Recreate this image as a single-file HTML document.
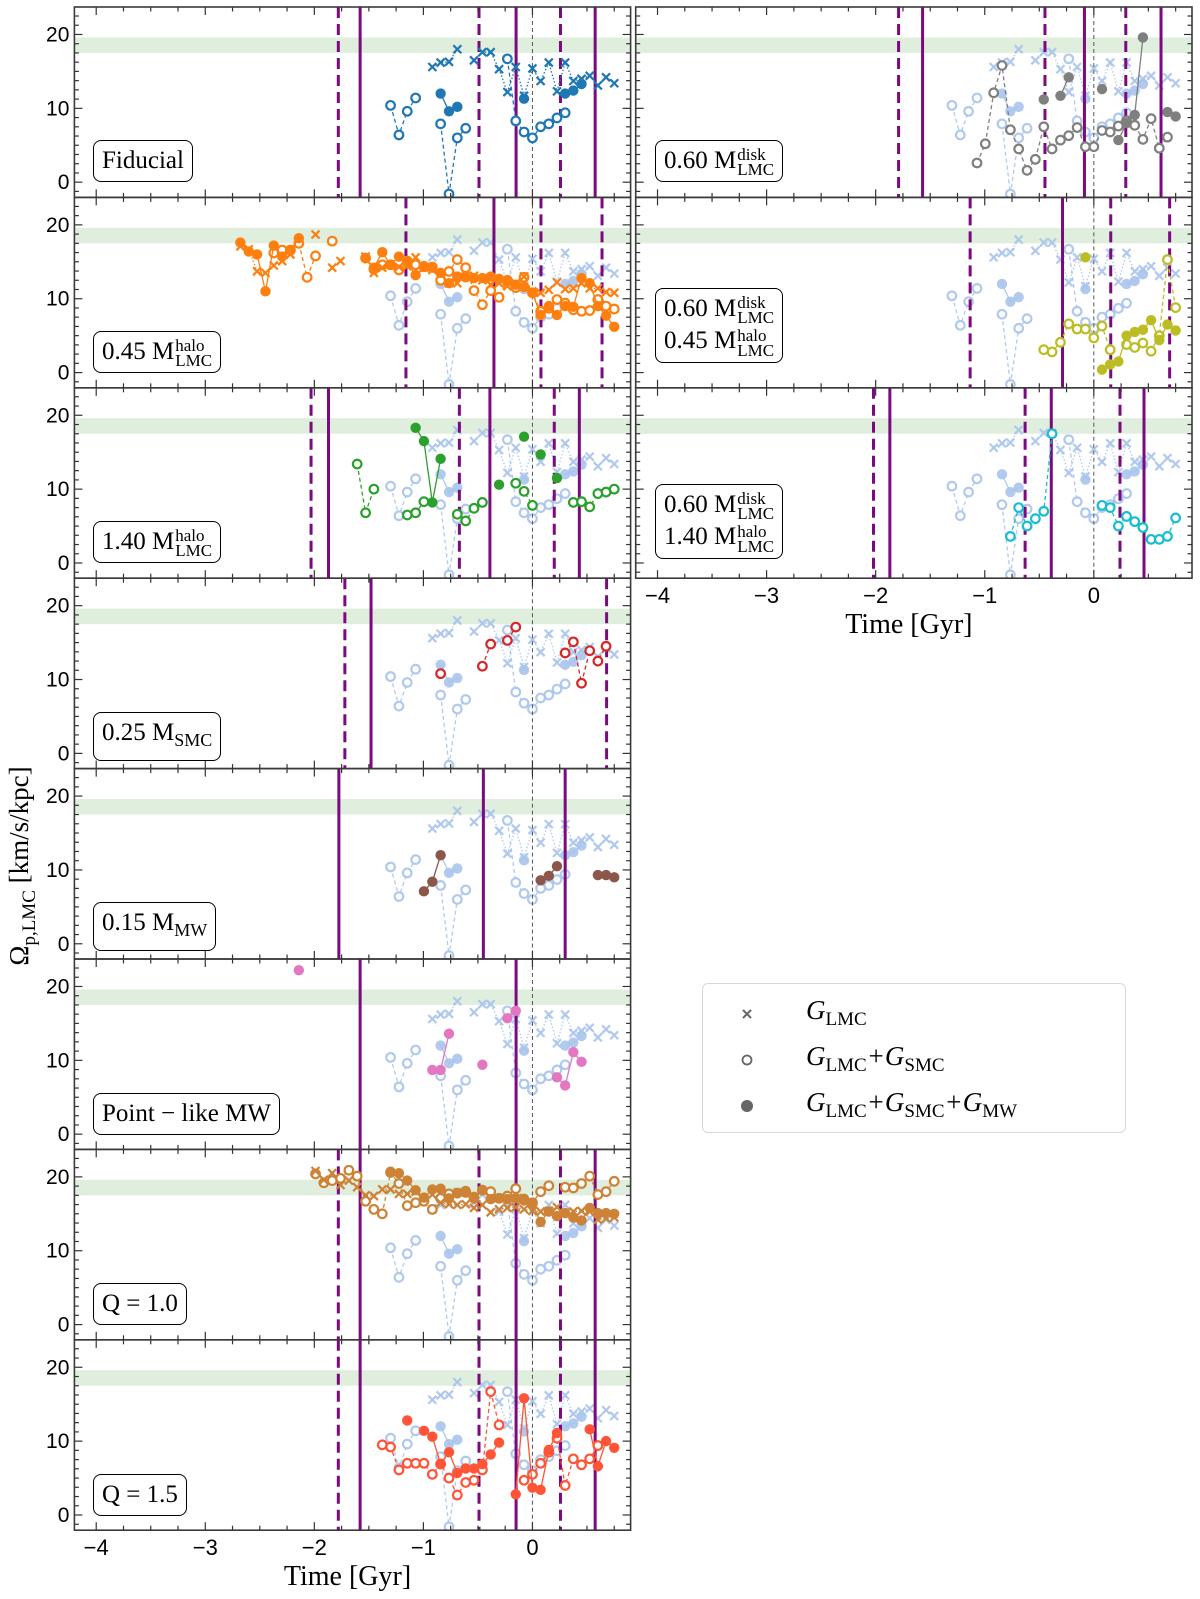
<!DOCTYPE html>
<html><head><meta charset="utf-8">
<style>
html,body{margin:0;padding:0;background:#fff;}
#wrap{position:relative;width:1200px;height:1599px;overflow:hidden;font-family:"Liberation Serif",serif;}
svg{position:absolute;left:0;top:0;}
.lbl{position:absolute;border:1.4px solid #000;border-radius:8px;background:#fff;font-family:"Liberation Serif",serif;font-size:25px;color:#000;padding:4px 8px;line-height:32px;white-space:nowrap;}
.st{display:inline-block;vertical-align:middle;font-size:17px;line-height:15px;text-align:left;margin-left:1px;}
.lg{position:absolute;left:702px;top:983px;width:422px;height:148px;border:1.3px solid #d8d8d8;border-radius:6px;background:#fff;}
.lgt{position:absolute;left:103px;font-family:"Liberation Serif",serif;font-style:italic;font-size:27px;white-space:nowrap;}
.lgt sub{font-style:normal;font-size:19px;vertical-align:-6px;}
</style></head><body>
<div id="wrap">
<svg id="chart" width="1200" height="1599"></svg>

<div class="lbl" style="left:93px;top:140px;">Fiducial</div>
<div class="lbl" style="left:93px;top:331px;">0.45 M<span class="st">halo<br>LMC</span></div>
<div class="lbl" style="left:93px;top:521px;">1.40 M<span class="st">halo<br>LMC</span></div>
<div class="lbl" style="left:93px;top:712px;">0.25 M<span style="font-size:18px;vertical-align:-6px">SMC</span></div>
<div class="lbl" style="left:93px;top:902px;">0.15 M<span style="font-size:18px;vertical-align:-6px">MW</span></div>
<div class="lbl" style="left:93px;top:1093px;">Point − like MW</div>
<div class="lbl" style="left:93px;top:1283px;">Q = 1.0</div>
<div class="lbl" style="left:93px;top:1474px;">Q = 1.5</div>
<div class="lbl" style="left:655px;top:140px;">0.60 M<span class="st">disk<br>LMC</span></div>
<div class="lbl" style="left:655px;top:288px;">0.60 M<span class="st">disk<br>LMC</span><br>0.45 M<span class="st">halo<br>LMC</span></div>
<div class="lbl" style="left:655px;top:484px;">0.60 M<span class="st">disk<br>LMC</span><br>1.40 M<span class="st">halo<br>LMC</span></div>

<div class="lg">
  <svg width="60" height="148" style="left:20px;top:0">
    <g stroke="#666" stroke-width="2"><line x1="20" y1="26" x2="28" y2="34"/><line x1="28" y1="26" x2="20" y2="34"/></g>
    <circle cx="24" cy="76" r="4.5" fill="#fff" stroke="#666" stroke-width="1.8"/>
    <circle cx="24" cy="122" r="6" fill="#666"/>
  </svg>
  <div class="lgt" style="top:11px">G<sub>LMC</sub></div>
  <div class="lgt" style="top:57px">G<sub>LMC</sub>+G<sub>SMC</sub></div>
  <div class="lgt" style="top:103px">G<sub>LMC</sub>+G<sub>SMC</sub>+G<sub>MW</sub></div>
</div>
</div>

<script>
// ---- time grid (Gyr), index n = -36..10 ----
const T = [-2.754,-2.678,-2.601,-2.525,-2.448,-2.372,-2.295,-2.219,-2.142,-2.066,-1.989,-1.913,-1.836,-1.760,-1.683,-1.607,-1.530,-1.454,-1.377,-1.301,-1.224,-1.148,-1.071,-0.995,-0.918,-0.842,-0.765,-0.689,-0.612,-0.536,-0.459,-0.383,-0.306,-0.230,-0.153,-0.077,0,0.075,0.150,0.225,0.300,0.375,0.450,0.525,0.600,0.675,0.750];
const T_N0 = -36;
const xTicks = [-4,-3,-2,-1,0];
const xTickLabels = ["\u22124","\u22123","\u22122","\u22121","0"];
const yTicks = [0,10,20];
const yTickLabels = ["0","10","20"];
const bandLow = 17.5, bandHigh = 19.6;

// Fiducial
const fidCrossN0 = -12;
const fidCrossV = [15.6,16.2,16.3,18.0,null,16.5,17.6,17.6,15.3,12.2,15.6,11.7,15.4,13.7,16.2,12.3,16.2,13.7,14.0,14.4,13.1,14.2,13.4];
const fidOpenN0 = -17;
const fidOpenV = [10.4,6.4,9.6,11.4,null,null,7.9,-1.6,6.0,7.3,null,null,null,null,16.7,8.3,6.8,6.0,7.5,7.9,8.7,9.4];
const fidFillN0 = -11;
const fidFillV = [12.0,9.6,10.2,null,null,null,null,null,null,null,11.3,null,null,null,null,12.0,12.4,13.3];
// 0.45 halo (orange)
const oCrossN0 = -35;
const oCrossV = [17.1,16.7,13.7,13.5,14.5,15.1,16.0,null,null,18.7,null,14.2,15.1,null,null,15.7,13.5,14.2,14.6,14.3,14.4,15.6,14.2,13.9,13.3,12.1,12.1,13.0,13.1,12.5,11.9,12.1,11.7,12.1,13.0,11.0,10.8,11.2,12.2,11.3,11.4,12.1,11.4,11.4,10.9,10.8];
const oOpenN0 = -31;
const oOpenV = [16.2,16.6,16.6,17.5,12.9,15.8,null,17.8,null,null,null,15.5,14.0,14.6,14.6,13.9,15.1,14.6,14.4,14.3,12.5,13.7,15.3,14.2,11.1,9.2,11.1,10.2,12.5,11.5,12.9,10.8,8.3,8.7,9.9,9.4,8.5,8.3,8.4,9.9,9.0,8.6];
const oFillN0 = -35;
const oFillV = [17.6,16.4,16.0,11.0,17.2,15.7,16.5,18.2,null,null,null,null,null,null,null,15.5,14.2,16.3,14.6,15.7,14.9,13.2,14.3,14.2,13.5,12.1,13.0,12.9,12.8,12.8,13.0,12.7,12.3,11.9,11.6,10.8,7.8,9.0,7.8,9.0,8.9,12.8,12.1,9.0,7.7,6.2];
// 1.40 halo (green)
const gOpenN0 = -21;
const gOpenV = [13.4,6.8,10.0,null,null,null,6.5,6.8,8.3,null,null,null,6.6,5.7,7.4,8.2,null,null,null,10.8,9.7,7.8,null,null,null,null,8.2,8.3,7.6,9.4,9.6,10.0];
const gFillN0 = -14;
const gFillV = [18.3,16.5,8.2,14.1,null,null,null,null,null,null,10.6,null,null,17.1,null,14.7,null,11.5];
// 0.25 SMC (red)
const rOpenN0 = -11;
const rOpenV = [10.8,null,null,null,null,11.8,14.8,null,15.3,17.1,null,null,null,null,null,13.6,15.1,9.5,13.9,12.5,14.5];
// 0.15 MW (brown)
const bFillN0 = -13;
const bFillV = [7.1,8.4,12.0,null,null,null,null,null,null,null,null,null,null,null,8.6,9.2,10.5,null,null,null,null,9.3,9.3,9.0];
// point-like MW (pink)
const pFillN0 = -28;
const pFillV = [22.2,null,null,null,null,null,null,null,null,null,null,null,null,null,null,null,8.7,8.7,13.6,null,null,null,9.4,null,null,15.7,16.7,null,null,null,null,7.7,6.6,11.1,9.8];
// Q=1.0
const q1CrossN0 = -26;
const q1CrossV = [20.8,19.6,20.5,18.9,19.5,18.6,17.5,17.4,18.3,18.3,17.7,17.7,18.0,17.1,17.6,16.5,16.3,16.2,16.3,15.8,16.2,15.2,15.6,15.8,15.9,15.6,15.4,15.3,15.4,15.9,15.1,15.3,15.4,15.3,14.2,14.4,14.5];
const q1OpenN0 = -26;
const q1OpenV = [20.4,19.2,19.5,19.8,20.9,20.1,16.7,15.6,15.0,20.6,19.1,16.1,16.5,16.7,15.6,17.1,17.7,17.8,17.9,17.1,18.2,18.0,17.1,17.4,18.4,17.0,16.5,18.0,18.8,null,18.6,18.5,19.1,20.1,17.6,18.0,19.4];
const q1FillN0 = -17;
const q1FillV = [20.7,20.5,19.5,18.2,17.2,18.3,18.4,17.1,17.8,18.1,17.3,18.2,17.0,17.1,17.0,17.1,16.8,16.3,13.9,15.3,14.7,15.1,14.5,14.1,15.8,15.1,15.1,15.0];
// Q=1.5
const q15OpenN0 = -18;
const q15OpenV = [9.5,9.2,6.1,7.0,7.0,7.0,5.5,6.9,5.0,2.7,4.4,4.7,6.1,16.7,12.2,null,null,4.7,5.5,7.0,8.5,10.4,4.0,7.6,6.8,7.6,9.4];
const q15FillN0 = -15;
const q15FillV = [12.8,null,11.4,10.6,6.9,8.5,5.7,6.3,6.3,6.9,8.2,9.8,null,2.8,15.8,3.7,3.4,8.8,11.1,null,null,null,11.6,6.6,10.0,9.1];
// 0.60 disk (grey)
const kOpenN0 = -14;
const kOpenV = [2.6,5.2,12.1,15.8,7.1,4.5,1.6,3.1,7.5,4.5,5.7,6.3,7.4,4.8,4.8,7.0,6.8,7.6,8.3,7.7,5.8,8.6,4.6,6.1];
const kFillN0 = -6;
const kFillV = [11.2,null,11.7,14.2,null,null,null,12.6,null,5.7,8.0,9.1,19.6,null,null,9.5,8.9];
// 0.60 disk + 0.45 halo (olive)
const yOpenN0 = -6;
const yOpenV = [3.1,2.8,4.1,6.6,5.9,5.9,4.7,6.3,3.1,null,3.8,3.4,4.0,2.9,5.0,15.3,8.8];
const yFillN0 = -1;
const yFillV = [15.6,null,0.4,1.1,1.5,5.0,5.5,5.8,7.1,4.4,6.5,5.7];
// 0.60 disk + 1.40 halo (cyan)
const cOpenN0 = -10;
const cOpenV = [3.6,7.5,5.0,6.0,7.0,17.5,null,null,null,null,null,7.8,7.5,5.0,6.3,5.6,4.8,3.2,3.2,3.6,6.1];

// vertical event lines (Gyr)
const vDash = {p1:[-1.78,-0.49,0.257],p2:[-1.16,0.078,0.638],p3:[-2.03,-0.67,0.20],p4:[-1.72,0.68],p5:[],p6:[],p7:[-1.78,-0.49,0.257],p8:[-1.78,-0.49,0.257],r1:[-1.79,-0.448,0.293],r2:[-1.134,0.155,0.695],r3:[-2.02,-0.63,0.24]};
const vSolid = {p1:[-1.58,-0.15,0.575],p2:[-0.353],p3:[-1.87,-0.39,0.43],p4:[-1.48],p5:[-1.775,-0.45,0.30],p6:[-1.58,-0.15],p7:[-1.58,-0.15,0.575],p8:[-1.58,-0.15,0.575],r1:[-1.57,-0.086,0.616],r2:[-0.287],r3:[-1.87,-0.39,0.46]};

const NS = "http://www.w3.org/2000/svg";
const svg = document.getElementById('chart');
const XMIN=-4.2, XMAX=0.9, YMIN=-2.06, YMAX=23.72, PH=190.4;
function mk(tag, attrs, parent){const e=document.createElementNS(NS,tag);for(const k in attrs)e.setAttribute(k,attrs[k]);(parent||svg).appendChild(e);return e;}

function makeAxes(x0, w, row){
  const top=7+row*PH;
  return {x0,w,top,
    sx:t=>x0+(t-XMIN)/(XMAX-XMIN)*w,
    sy:v=>top+(YMAX-v)/(YMAX-YMIN)*PH};
}

function drawSeries(g, ax, n0, vals, kind, color, dash, opacity){
  const pts=[];
  vals.forEach((v,i)=>{const idx=n0+i-T_N0; pts.push(v===null?null:[ax.sx(T[idx]),ax.sy(v)]);});
  // lines
  let seg=[];
  const flush=()=>{ if(seg.length>1){
      const l=mk('polyline',{points:seg.map(p=>p.join(',')).join(' '),fill:'none',stroke:color,'stroke-width':1.3,'stroke-dasharray':dash,opacity:opacity},g);
      
      
    } seg=[]; };
  pts.forEach(p=>{ if(p===null) flush(); else seg.push(p); }); flush();
  pts.forEach(p=>{ if(!p) return;
    let m;
    if(kind==='cross'){
      m=mk('g',{stroke:color,'stroke-width':2.2,opacity:opacity},g);
      mk('line',{x1:p[0]-4,y1:p[1]-4,x2:p[0]+4,y2:p[1]+4},m);
      mk('line',{x1:p[0]+4,y1:p[1]-4,x2:p[0]-4,y2:p[1]+4},m);
    } else if(kind==='open'){
      m=mk('circle',{cx:p[0],cy:p[1],r:4.3,fill:'#fff',stroke:color,'stroke-width':2.2,opacity:opacity},g);
    } else {
      m=mk('circle',{cx:p[0],cy:p[1],r:5.2,fill:color,opacity:opacity},g);
    }
    
    
  });
}

const LIGHT='#a9c4ec';
function drawPanel(key, ax, series, isFid, showXLabels){
  const g=mk('g',{});
  
  
  const cid='clip-'+key;
  const cp=mk('clipPath',{id:cid},g); mk('rect',{x:ax.x0,y:ax.top,width:ax.w,height:PH},cp);
  const inner=mk('g',{'clip-path':'url(#'+cid+')'},g);
  const band=mk('rect',{x:ax.x0,y:ax.sy(bandHigh),width:ax.w,height:ax.sy(bandLow)-ax.sy(bandHigh),fill:'#dfeedd'},inner);
  
  
  if(!isFid){
    drawSeries(inner,ax,fidOpenN0,fidOpenV,'open',LIGHT,'4,3',0.9);
    drawSeries(inner,ax,fidCrossN0,fidCrossV,'cross',LIGHT,'1.5,2',0.9);
    drawSeries(inner,ax,fidFillN0,fidFillV,'filled',LIGHT,'',0.9);
  }
  vDash[key].forEach(t=>{const l=mk('line',{x1:ax.sx(t),x2:ax.sx(t),y1:ax.top,y2:ax.top+PH,stroke:'#7a0a7e','stroke-width':3,'stroke-dasharray':'11,6'},inner);
    
    });
  vSolid[key].forEach(t=>{const l=mk('line',{x1:ax.sx(t),x2:ax.sx(t),y1:ax.top,y2:ax.top+PH,stroke:'#7a0a7e','stroke-width':3},inner);
    
    });
  const z=mk('line',{x1:ax.sx(0),x2:ax.sx(0),y1:ax.top,y2:ax.top+PH,stroke:'#555','stroke-width':1,'stroke-dasharray':'4,3'},inner);
  
  
  series.forEach(s=>drawSeries(inner,ax,s[0],s[1],s[2],s[3],s[4],1));
  // ticks
  const tk=mk('g',{stroke:'#333','stroke-width':1.2},g);
  for(let i=-16;i<=3;i++){const t=i*0.25; const x=ax.sx(t); const L=(i%4===0)?8:4.5;
    mk('line',{x1:x,x2:x,y1:ax.top,y2:ax.top+L},tk); mk('line',{x1:x,x2:x,y1:ax.top+PH,y2:ax.top+PH-L},tk);}
  for(let i=-1;i<=18;i++){const v=i*1.25; const y=ax.sy(v); if(y<ax.top||y>ax.top+PH) continue; const L=(i%8===0)?8:4.5;
    mk('line',{x1:ax.x0,x2:ax.x0+L,y1:y,y2:y},tk); mk('line',{x1:ax.x0+ax.w,x2:ax.x0+ax.w-L,y1:y,y2:y},tk);}
  const fr=mk('rect',{x:ax.x0,y:ax.top,width:ax.w,height:PH,fill:'none',stroke:'#3a3a3a','stroke-width':1.6},g);
  
  
  if(ax.x0<100){
    yTicks.forEach((v,i)=>{const t=mk('text',{x:ax.x0-5,y:ax.sy(v)+7,'text-anchor':'end','font-family':'Liberation Sans, sans-serif','font-size':21},g); t.textContent=yTickLabels[i];
      
      });
  }
  if(showXLabels){
    xTicks.forEach((v,i)=>{const t=mk('text',{x:ax.sx(v),y:ax.top+PH+25,'text-anchor':'middle','font-family':'Liberation Sans, sans-serif','font-size':22},g); t.textContent=xTickLabels[i];
      
      });
    const xl=mk('text',{x:ax.x0+ax.w/2-5,y:ax.top+PH+55,'text-anchor':'middle','font-family':'Liberation Serif, serif','font-size':28},g);
    xl.textContent='Time [Gyr]';
    
    
  }
}

const LX=74.4, LW=556.2, RX=635.7, RW=556.3;
const C={fid:'#1f77b4',o:'#ff7f0e',g:'#2ca02c',r:'#d62728',b:'#8c564b',p:'#e377c2',k:'#7f7f7f',y:'#bcbd22',c:'#17becf',q1:'#cd8235',q15:'#ff5436'};
const DOT='1.5,2', DSH='4,3';
drawPanel('p1',makeAxes(LX,LW,0),[[fidOpenN0,fidOpenV,'open',C.fid,DSH],[fidCrossN0,fidCrossV,'cross',C.fid,DOT],[fidFillN0,fidFillV,'filled',C.fid,'']],true,false);
drawPanel('p2',makeAxes(LX,LW,1),[[oOpenN0,oOpenV,'open',C.o,DSH],[oCrossN0,oCrossV,'cross',C.o,DOT],[oFillN0,oFillV,'filled',C.o,'']],false,false);
drawPanel('p3',makeAxes(LX,LW,2),[[gOpenN0,gOpenV,'open',C.g,DSH],[gFillN0,gFillV,'filled',C.g,'']],false,false);
drawPanel('p4',makeAxes(LX,LW,3),[[rOpenN0,rOpenV,'open',C.r,DSH]],false,false);
drawPanel('p5',makeAxes(LX,LW,4),[[bFillN0,bFillV,'filled',C.b,'']],false,false);
drawPanel('p6',makeAxes(LX,LW,5),[[pFillN0,pFillV,'filled',C.p,'']],false,false);
drawPanel('p7',makeAxes(LX,LW,6),[[q1OpenN0,q1OpenV,'open',C.q1,DSH],[q1CrossN0,q1CrossV,'cross',C.q1,DOT],[q1FillN0,q1FillV,'filled',C.q1,'']],false,false);
drawPanel('p8',makeAxes(LX,LW,7),[[q15OpenN0,q15OpenV,'open',C.q15,DSH],[q15FillN0,q15FillV,'filled',C.q15,'']],false,true);
drawPanel('r1',makeAxes(RX,RW,0),[[kOpenN0,kOpenV,'open',C.k,DSH],[kFillN0,kFillV,'filled',C.k,'']],false,false);
drawPanel('r2',makeAxes(RX,RW,1),[[yOpenN0,yOpenV,'open',C.y,DSH],[yFillN0,yFillV,'filled',C.y,'']],false,false);
drawPanel('r3',makeAxes(RX,RW,2),[[cOpenN0,cOpenV,'open',C.c,DSH]],false,true);

// y-axis title
const yt=mk('text',{x:0,y:0,transform:'translate(28,866) rotate(-90)','text-anchor':'middle','font-family':'Liberation Serif, serif','font-size':27});


const s1=mk('tspan',{},yt); s1.textContent='\u03A9';
const s2=mk('tspan',{'font-size':19,dy:7},yt); s2.textContent='p,LMC';
const s3=mk('tspan',{dy:-7},yt); s3.textContent=' [km/s/kpc]';
</script>
</body></html>
